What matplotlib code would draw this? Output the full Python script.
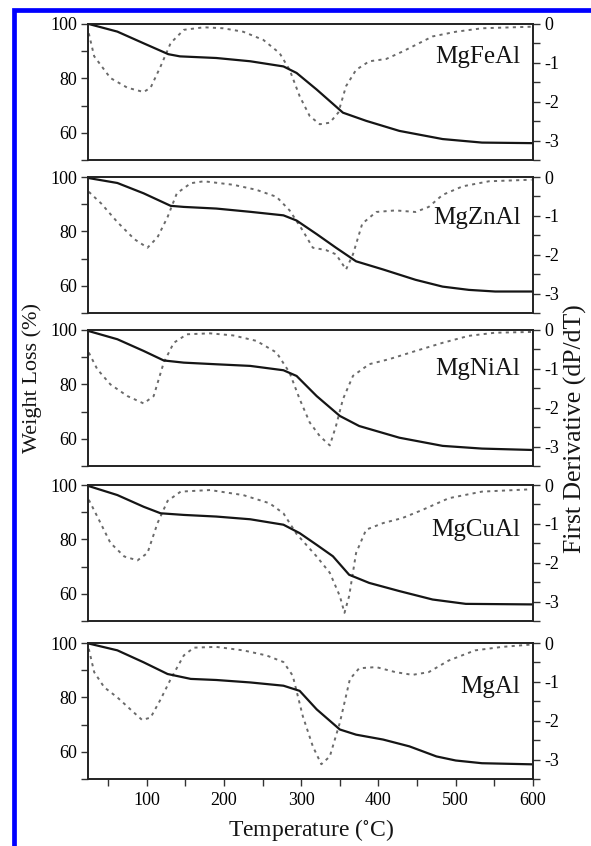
import matplotlib
matplotlib.use("Agg")
import matplotlib.pyplot as plt
from matplotlib.patches import Rectangle
from matplotlib.ticker import MultipleLocator

plt.rcParams['font.family'] = 'Liberation Serif'
plt.rcParams['mathtext.fontset'] = 'stix'
plt.rcParams['axes.unicode_minus'] = False

# samples, top to bottom
names = ['MgFeAl', 'MgZnAl', 'MgNiAl', 'MgCuAl', 'MgAl']

# weight loss curves (TG)
tg_T = [
    [25, 62, 96, 128, 143, 190, 234, 277, 294, 320, 354, 384, 427, 483, 534, 598],
    [25, 62, 96, 131, 148, 190, 234, 277, 294, 320, 345, 371, 406, 448, 483, 517, 551, 598],
    [25, 62, 96, 122, 148, 190, 234, 277, 294, 320, 350, 375, 427, 483, 534, 598],
    [25, 62, 96, 118, 148, 190, 234, 277, 298, 320, 341, 362, 388, 427, 470, 513, 598],
    [25, 62, 96, 127, 157, 190, 234, 277, 298, 320, 350, 371, 406, 440, 475, 500, 534, 598],
]
tg_w = [
    [100, 97.2, 92.9, 88.9, 88.1, 87.5, 86.3, 84.4, 82, 75.9, 67.4, 64.4, 60.7, 57.7, 56.4, 56.2],
    [99.6, 97.8, 94, 89.4, 89, 88.4, 87.2, 85.9, 84, 79, 74, 69, 66, 62.2, 59.7, 58.5, 57.9, 57.9],
    [99.6, 96.6, 92.3, 88.8, 88, 87.4, 86.8, 85.2, 83.1, 75.7, 68.4, 64.7, 60.4, 57.4, 56.4, 55.9],
    [99.6, 96.3, 92, 89.6, 89, 88.4, 87.4, 85.4, 82.3, 78, 73.8, 67, 64, 61, 57.9, 56.3, 56.1],
    [99.8, 97.3, 92.9, 88.6, 86.8, 86.4, 85.5, 84.3, 82.4, 75.6, 68.2, 66.3, 64.5, 62, 58.3, 56.8, 55.8, 55.4],
]

# first derivative curves (DTG)
dtg_T = [
    [25, 32, 53, 75, 96, 105, 118, 131, 148, 174, 199, 225, 251, 272, 285, 298, 311, 324, 337, 348,
     358, 371, 388, 410, 431, 448, 470, 500, 534, 598],
    [25, 41, 62, 84, 101, 114, 127, 139, 157, 174, 212, 242, 268, 285, 302, 315, 332, 345, 358, 367,
     379, 397, 422, 448, 465, 483, 509, 543, 598],
    [25, 36, 53, 75, 96, 109, 122, 135, 152, 182, 212, 242, 268, 285, 298, 311, 324, 337, 345, 354,
     367, 388, 414, 448, 483, 517, 551, 598],
    [25, 36, 53, 71, 88, 101, 114, 127, 144, 182, 225, 259, 277, 294, 320, 337, 350, 356, 362, 371,
     384, 406, 431, 457, 491, 534, 598],
    [25, 32, 45, 62, 79, 94, 105, 118, 131, 148, 161, 190, 225, 255, 277, 289, 302, 315, 326, 337,
     350, 363, 375, 397, 422, 444, 465, 491, 525, 560, 598],
]
dtg_d = [
    [-0.24, -0.83, -1.39, -1.64, -1.75, -1.64, -1.09, -0.49, -0.15, -0.085, -0.11, -0.2, -0.41, -0.75,
     -1.18, -1.86, -2.37, -2.58, -2.54, -2.28, -1.6, -1.18, -0.96, -0.9, -0.71, -0.54, -0.32, -0.2, -0.11, -0.07],
    [-0.38, -0.68, -1.16, -1.6, -1.82, -1.55, -1.03, -0.42, -0.16, -0.11, -0.2, -0.33, -0.51, -0.86,
     -1.38, -1.82, -1.88, -1.99, -2.38, -1.99, -1.2, -0.9, -0.86, -0.9, -0.77, -0.46, -0.24, -0.11, -0.07],
    [-0.58, -1.01, -1.4, -1.7, -1.89, -1.7, -0.84, -0.33, -0.11, -0.086, -0.14, -0.28, -0.58, -1.1,
     -1.78, -2.38, -2.73, -2.97, -2.47, -1.78, -1.18, -0.88, -0.75, -0.54, -0.33, -0.15, -0.07, -0.05],
    [-0.38, -0.81, -1.49, -1.84, -1.94, -1.75, -0.98, -0.41, -0.17, -0.13, -0.26, -0.47, -0.73, -1.26,
     -1.84, -2.26, -2.86, -3.29, -2.86, -1.75, -1.15, -0.98, -0.85, -0.64, -0.34, -0.17, -0.11],
    [-0.15, -0.75, -1.14, -1.4, -1.71, -1.98, -1.92, -1.45, -0.93, -0.32, -0.12, -0.1, -0.19, -0.32,
     -0.49, -0.84, -1.88, -2.66, -3.12, -2.92, -2.05, -0.93, -0.65, -0.62, -0.75, -0.82, -0.75, -0.45,
     -0.19, -0.1, -0.04],
]

W, H = 591, 846
fig = plt.figure(figsize=(W / 100, H / 100), dpi=100)

left_px, right_px = 88, 533
tops_px = [24, 177, 330, 485, 643]
h_px = 136
label_y = [0.76, 0.70, 0.71, 0.67, 0.68]

for i, name in enumerate(names):
    bottom = 1 - (tops_px[i] + h_px) / H
    ax = fig.add_axes([left_px / W, bottom, (right_px - left_px) / W, h_px / H])
    ax2 = ax.twinx()

    ax2.plot(dtg_T[i], dtg_d[i], color='#6a6a6a', lw=1.4, ls=(0, (1.6, 2.2)))
    ax.plot(tg_T[i], tg_w[i], color='#151515', lw=1.6)
    ax.set_zorder(ax2.get_zorder() + 1)
    ax.patch.set_visible(False)

    ax.set_xlim(24, 600)
    ax.set_ylim(50, 100)
    ax2.set_ylim(-3.5, 0)
    ax.set_yticks([60, 80, 100])
    ax.yaxis.set_minor_locator(MultipleLocator(10))
    ax2.set_yticks([0, -1, -2, -3])
    ax2.set_yticklabels(['0', '-1', '-2', '-3'])
    ax2.yaxis.set_minor_locator(MultipleLocator(0.5))

    for a in (ax, ax2):
        for s in a.spines.values():
            s.set_linewidth(1.2)
            s.set_color('#222222')
        a.tick_params(axis='y', which='both', direction='out', width=1.0,
                      color='#333333', labelsize=13, pad=3)
        a.tick_params(axis='y', which='major', length=5)
        a.tick_params(axis='y', which='minor', length=5)

    if i == len(names) - 1:
        ax.set_xticks([100, 200, 300, 400, 500, 600])
        ax.xaxis.set_minor_locator(MultipleLocator(50))
        ax.tick_params(axis='x', which='both', direction='out', width=1.0,
                       length=5, labelsize=13, pad=4, color='#333333')
    else:
        ax.set_xticks([])
        ax.tick_params(axis='x', which='both', bottom=False, labelbottom=False)

    ax.text(0.972, label_y[i], name, transform=ax.transAxes, ha='right', va='center',
            fontsize=18, color='#151515')

fig.text(32 / W, 1 - 378 / H, 'Weight Loss (%)', rotation=90, ha='center', va='center',
         fontsize=16, color='#151515')
fig.text(564 / W, 1 - 429 / H, 'First Derivative (dP/dT)', rotation=90, ha='left', va='center',
         fontsize=18.5, color='#151515')
fig.text(311 / W, 1 - 830 / H, r'Temperature ($^{\circ}$C)', ha='center', va='center',
         fontsize=17, color='#151515')

# blue frame on top and left
fig.patches.append(Rectangle((13.5 / W, -0.1), 1.2, 1 - 10.5 / H + 0.1, transform=fig.transFigure,
                             fill=False, edgecolor='#0000ff', lw=3.4, clip_on=False))

fig.savefig('out.png', dpi=100)
